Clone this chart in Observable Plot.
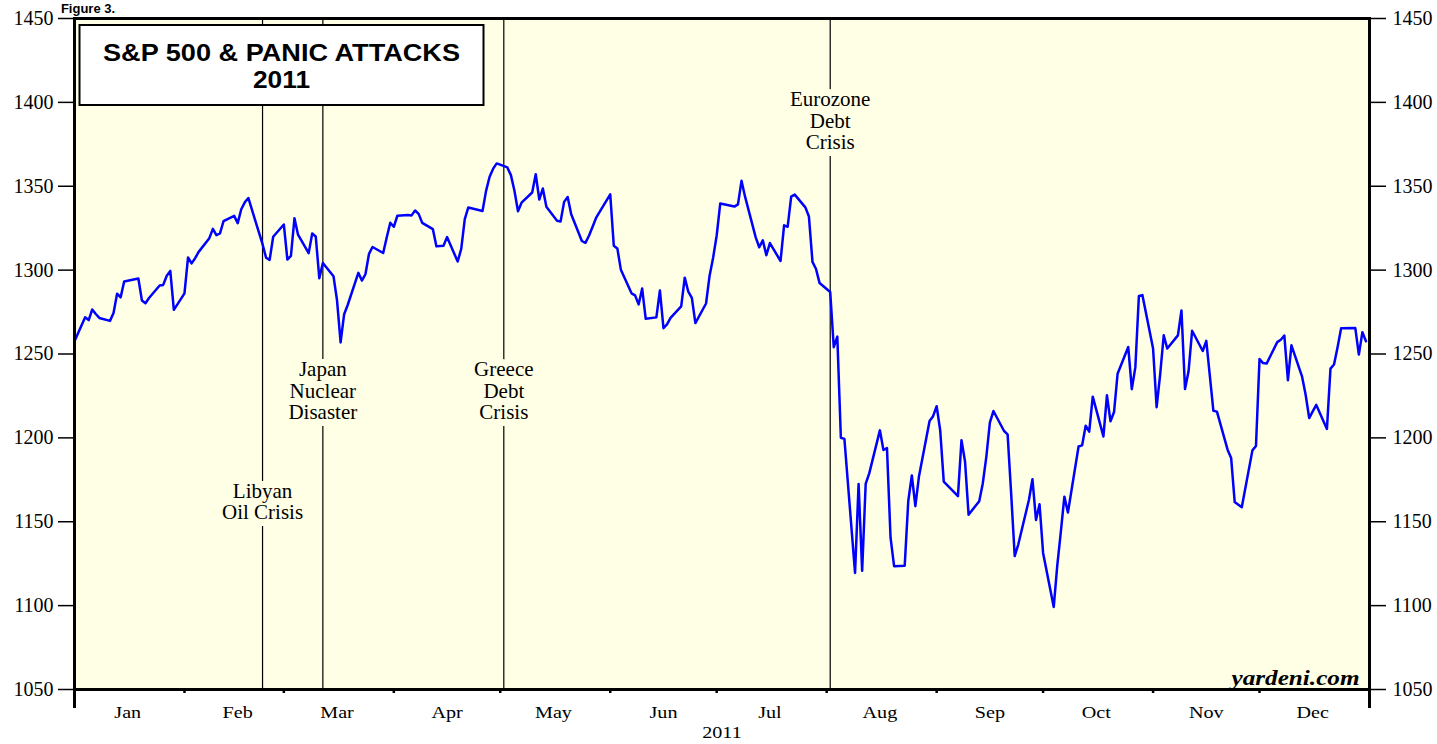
<!DOCTYPE html>
<html>
<head>
<meta charset="utf-8">
<script src="https://cdn.jsdelivr.net/npm/d3@7"></script>
<script src="https://cdn.jsdelivr.net/npm/@observablehq/plot@0.6"></script>
<style>
  html, body { margin: 0; padding: 0; background: #ffffff; }
  #chart { position: relative; width: 1437px; height: 744px; overflow: hidden; }
</style>
</head>
<body>
<div id="chart"></div>
<script>
// ---------- DATA ----------
const sessionDates = [
  "2010-12-31",
  "2011-01-03","2011-01-04","2011-01-05","2011-01-06","2011-01-07","2011-01-10","2011-01-11","2011-01-12","2011-01-13","2011-01-14",
  "2011-01-18","2011-01-19","2011-01-20","2011-01-21","2011-01-24","2011-01-25","2011-01-26","2011-01-27","2011-01-28","2011-01-31",
  "2011-02-01","2011-02-02","2011-02-03","2011-02-04","2011-02-07","2011-02-08","2011-02-09","2011-02-10","2011-02-11","2011-02-14",
  "2011-02-15","2011-02-16","2011-02-17","2011-02-18","2011-02-22","2011-02-23","2011-02-24","2011-02-25","2011-02-28",
  "2011-03-01","2011-03-02","2011-03-03","2011-03-04","2011-03-07","2011-03-08","2011-03-09","2011-03-10","2011-03-11","2011-03-14",
  "2011-03-15","2011-03-16","2011-03-17","2011-03-18","2011-03-21","2011-03-22","2011-03-23","2011-03-24","2011-03-25","2011-03-28",
  "2011-03-29","2011-03-30","2011-03-31",
  "2011-04-01","2011-04-04","2011-04-05","2011-04-06","2011-04-07","2011-04-08","2011-04-11","2011-04-12","2011-04-13","2011-04-14",
  "2011-04-15","2011-04-18","2011-04-19","2011-04-20","2011-04-21","2011-04-25","2011-04-26","2011-04-27","2011-04-28","2011-04-29",
  "2011-05-02","2011-05-03","2011-05-04","2011-05-05","2011-05-06","2011-05-09","2011-05-10","2011-05-11","2011-05-12","2011-05-13",
  "2011-05-16","2011-05-17","2011-05-18","2011-05-19","2011-05-20","2011-05-23","2011-05-24","2011-05-25","2011-05-26","2011-05-27",
  "2011-05-31",
  "2011-06-01","2011-06-02","2011-06-03","2011-06-06","2011-06-07","2011-06-08","2011-06-09","2011-06-10","2011-06-13","2011-06-14",
  "2011-06-15","2011-06-16","2011-06-17","2011-06-20","2011-06-21","2011-06-22","2011-06-23","2011-06-24","2011-06-27","2011-06-28",
  "2011-06-29","2011-06-30",
  "2011-07-01","2011-07-05","2011-07-06","2011-07-07","2011-07-08","2011-07-11","2011-07-12","2011-07-13","2011-07-14","2011-07-15",
  "2011-07-18","2011-07-19","2011-07-20","2011-07-21","2011-07-22","2011-07-25","2011-07-26","2011-07-27","2011-07-28","2011-07-29",
  "2011-08-01","2011-08-02","2011-08-03","2011-08-04","2011-08-05","2011-08-08","2011-08-09","2011-08-10","2011-08-11","2011-08-12",
  "2011-08-15","2011-08-16","2011-08-17","2011-08-18","2011-08-19","2011-08-22","2011-08-23","2011-08-24","2011-08-25","2011-08-26",
  "2011-08-29","2011-08-30","2011-08-31",
  "2011-09-01","2011-09-02","2011-09-06","2011-09-07","2011-09-08","2011-09-09","2011-09-12","2011-09-13","2011-09-14","2011-09-15",
  "2011-09-16","2011-09-19","2011-09-20","2011-09-21","2011-09-22","2011-09-23","2011-09-26","2011-09-27","2011-09-28","2011-09-29",
  "2011-09-30",
  "2011-10-03","2011-10-04","2011-10-05","2011-10-06","2011-10-07","2011-10-10","2011-10-11","2011-10-12","2011-10-13","2011-10-14",
  "2011-10-17","2011-10-18","2011-10-19","2011-10-20","2011-10-21","2011-10-24","2011-10-25","2011-10-26","2011-10-27","2011-10-28",
  "2011-10-31",
  "2011-11-01","2011-11-02","2011-11-03","2011-11-04","2011-11-07","2011-11-08","2011-11-09","2011-11-10","2011-11-11","2011-11-14",
  "2011-11-15","2011-11-16","2011-11-17","2011-11-18","2011-11-21","2011-11-22","2011-11-23","2011-11-25","2011-11-28","2011-11-29",
  "2011-11-30",
  "2011-12-01","2011-12-02","2011-12-05","2011-12-06","2011-12-07","2011-12-08","2011-12-09","2011-12-12","2011-12-13","2011-12-14",
  "2011-12-15","2011-12-16","2011-12-19","2011-12-20","2011-12-21","2011-12-22","2011-12-23","2011-12-27","2011-12-28","2011-12-29",
  "2011-12-30"
];

const spxClose = [
  1257.64,
  1271.87,1270.20,1276.56,1273.85,1271.50,1269.75,1274.48,1285.96,1283.76,1293.24,
  1295.02,1281.92,1280.26,1283.35,1290.84,1291.18,1296.63,1299.54,1276.34,1286.12,
  1307.59,1304.03,1307.10,1310.87,1319.05,1324.57,1320.88,1321.87,1329.15,1332.32,
  1328.01,1336.32,1340.43,1343.01,1315.44,1307.40,1306.10,1319.88,1327.22,
  1306.33,1308.44,1330.97,1321.15,1310.13,1321.82,1320.02,1295.11,1304.28,1296.39,
  1281.87,1256.88,1273.72,1279.21,1298.38,1293.77,1297.54,1309.66,1313.80,1310.19,
  1319.44,1328.26,1325.83,
  1332.41,1332.87,1332.63,1335.54,1333.51,1328.17,1324.46,1314.16,1314.41,1314.52,
  1319.68,1305.14,1312.62,1330.36,1337.38,1335.25,1347.24,1355.66,1360.48,1363.61,
  1361.22,1356.62,1347.32,1335.10,1340.20,1346.29,1357.16,1342.08,1348.65,1337.77,
  1329.47,1328.98,1340.68,1343.60,1333.27,1317.37,1316.28,1320.47,1325.69,1331.10,
  1345.20,
  1314.55,1312.94,1300.16,1286.17,1284.94,1279.56,1289.00,1270.98,1271.83,1287.87,
  1265.42,1267.64,1271.50,1278.36,1295.52,1287.14,1283.50,1268.45,1280.10,1296.67,
  1307.41,1320.64,
  1339.67,1337.88,1339.22,1353.22,1343.80,1319.49,1313.64,1317.72,1308.87,1316.14,
  1305.44,1326.73,1325.84,1343.80,1345.02,1337.43,1331.94,1304.89,1300.67,1292.28,
  1286.94,1254.05,1260.34,1200.07,1199.38,1119.46,1172.53,1120.76,1172.64,1178.81,
  1204.49,1192.76,1193.89,1140.65,1123.53,1123.82,1162.35,1177.60,1159.27,1176.80,
  1210.08,1212.92,1218.89,
  1204.42,1173.97,1165.24,1198.62,1185.90,1154.23,1162.27,1172.87,1188.68,1209.11,
  1216.01,1204.09,1202.09,1166.76,1129.56,1136.43,1162.95,1175.38,1151.06,1160.40,
  1131.42,
  1099.23,1123.95,1144.03,1164.97,1155.46,1194.89,1195.54,1207.25,1203.66,1224.58,
  1200.86,1225.38,1209.88,1215.39,1238.25,1254.19,1229.05,1242.00,1284.59,1285.09,
  1253.30,
  1218.28,1237.90,1261.15,1253.23,1261.12,1275.92,1229.10,1239.70,1263.85,1251.78,
  1257.81,1236.91,1216.13,1215.65,1192.98,1188.04,1161.79,1158.67,1192.55,1195.19,
  1246.96,
  1244.58,1244.28,1257.08,1258.47,1261.01,1234.35,1255.19,1236.47,1225.73,1211.82,
  1215.75,1219.66,1205.35,1241.30,1243.72,1254.00,1265.33,1265.43,1249.64,1263.02,
  1257.60
];

const eventDates = ["2011-02-22", "2011-03-11", "2011-05-01", "2011-08-01"];
const eventLabels = ["Libyan\nOil Crisis", "Japan\nNuclear\nDisaster", "Greece\nDebt\nCrisis", "Eurozone\nDebt\nCrisis"];
const eventLabelLevels = [1162, 1228, 1228, 1389];

const yTicks = [1050, 1100, 1150, 1200, 1250, 1300, 1350, 1400, 1450];
const monthLabels = ["Jan", "Feb", "Mar", "Apr", "May", "Jun", "Jul", "Aug", "Sep", "Oct", "Nov", "Dec"];
const yearLabel = "2011";
const titleLines = ["S&P 500 & PANIC ATTACKS", "2011"];
const figureLabel = "Figure 3.";
const sourceLabel = "yardeni.com";

// ---------- BUILD ----------
const series = sessionDates.map((d, i) => ({date: new Date(d), close: spxClose[i]}));
const events = eventDates.map((d, i) => ({date: new Date(d), label: eventLabels[i], level: eventLabelLevels[i]}));

const xStart = new Date("2010-12-31");
const xEnd = new Date("2011-12-31");
const monthStarts = d3.utcMonth.range(new Date("2011-01-01"), new Date("2012-01-01"));
const monthBoundaryTicks = monthStarts.slice(1).map(m => d3.utcDay.offset(m, -1));
const monthLabelTicks = monthStarts.map(m => d3.utcDay.offset(m, 14));
const bg = "#ffffe6";

const eventTextOpts = {x: "date", y: "level", text: "label", fontSize: 21, lineHeight: 1.03};

const chart = Plot.plot({
  width: 1437,
  height: 744,
  marginLeft: 74,
  marginRight: 68,
  marginTop: 18,
  marginBottom: 55,
  style: {fontFamily: "'Liberation Serif', 'Times New Roman', serif", fontSize: "20px", background: "#ffffff", overflow: "visible", color: "black"},
  x: {type: "utc", domain: [xStart, xEnd]},
  y: {domain: [1050, 1450]},
  marks: [
    Plot.frame({fill: bg}),
    Plot.ruleX(events, {x: "date", stroke: "black", strokeWidth: 1.2}),
    // halo layer that breaks the event rules around the labels
    Plot.text(events, {...eventTextOpts, fill: bg, stroke: bg, strokeWidth: 14}),
    Plot.text(events, {...eventTextOpts, fill: "black"}),
    Plot.line(series, {x: "date", y: "close", stroke: "#0000ff", strokeWidth: 2.5, strokeLinejoin: "round"}),
    Plot.axisY({anchor: "left", ticks: yTicks, tickSize: 16, tickPadding: 5, strokeWidth: 1.5, label: null, fontSize: 20, tickFormat: d => String(d)}),
    Plot.axisY({anchor: "right", ticks: yTicks, tickSize: 16, tickPadding: 7, strokeWidth: 1.5, label: null, fontSize: 20, tickFormat: d => String(d)}),
    Plot.axisX({ticks: monthBoundaryTicks, tickSize: 4, strokeWidth: 2.5, tickFormat: () => "", label: null}),
    Plot.axisX({ticks: [xStart, xEnd], tickSize: 19, strokeWidth: 3, tickFormat: () => "", label: null}),
    Plot.axisX({ticks: monthLabelTicks, tickSize: 0, tickPadding: 16, fontSize: 17.5, tickFormat: d => monthLabels[d.getUTCMonth()], label: null}),
    Plot.text([yearLabel], {frameAnchor: "bottom", dy: 48, fontSize: 17.5, text: d => d}),
    Plot.text([sourceLabel], {frameAnchor: "bottom-right", dx: -10, dy: -5, fontSize: 21, fontWeight: "bold", fontStyle: "italic", text: d => d}),
    Plot.frame({stroke: "black", strokeWidth: 3})
  ]
});

document.getElementById("chart").appendChild(chart);

// stretch the wide-looking serif labels horizontally as in the reference
const svg = d3.select(chart.tagName.toLowerCase() === "svg" ? chart : chart.querySelector("svg"));
svg.selectAll("text").each(function () {
  const t = this.textContent;
  if (monthLabels.includes(t) || t === yearLabel) {
    const w = this.getComputedTextLength();
    if (w > 0) { this.setAttribute("textLength", (w * 1.15).toFixed(1)); this.setAttribute("lengthAdjust", "spacingAndGlyphs"); }
  } else if (t === sourceLabel) {
    this.setAttribute("textLength", "128");
    this.setAttribute("lengthAdjust", "spacingAndGlyphs");
  }
});

// title box and figure label
const g = svg.append("g").attr("font-family", "'Liberation Sans', Arial, sans-serif").attr("font-weight", "bold");
g.append("rect").attr("x", 79.5).attr("y", 25).attr("width", 404).attr("height", 80)
  .attr("fill", "#ffffff").attr("stroke", "black").attr("stroke-width", 2);
g.append("text").attr("x", 281.5).attr("y", 60.5).attr("text-anchor", "middle").attr("font-size", 24.5)
  .attr("textLength", 357).attr("lengthAdjust", "spacingAndGlyphs").text(titleLines[0]);
g.append("text").attr("x", 281.5).attr("y", 88.3).attr("text-anchor", "middle").attr("font-size", 24.5)
  .attr("textLength", 57).attr("lengthAdjust", "spacingAndGlyphs").text(titleLines[1]);
g.append("text").attr("x", 88).attr("y", 13).attr("font-size", 13).text(figureLabel);
</script>
</body>
</html>
